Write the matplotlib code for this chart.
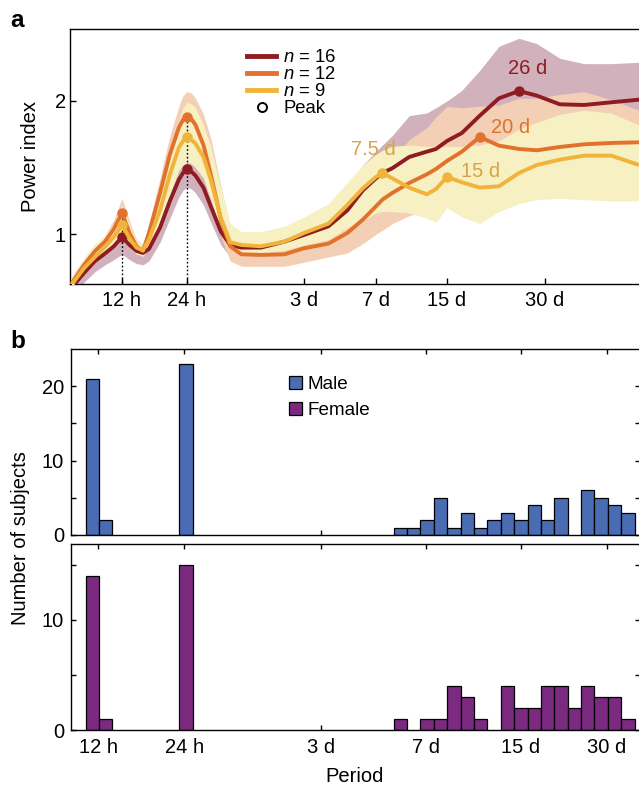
import numpy as np
import matplotlib
matplotlib.use('Agg')
import matplotlib.pyplot as plt
from matplotlib.patches import Patch
from matplotlib.lines import Line2D
from matplotlib.ticker import FixedLocator, NullLocator, FixedFormatter

plt.rcParams['font.family'] = ['Liberation Sans', 'DejaVu Sans']
plt.rcParams['mathtext.fontset'] = 'custom'
plt.rcParams['mathtext.it'] = 'Liberation Sans:italic'
plt.rcParams['mathtext.rm'] = 'Liberation Sans'

# ---------------- data: panel a (power index vs period) ----------------
period_h = [7, 8, 9, 10, 11, 12, 13, 14, 15, 16,
            18, 20, 22, 23, 24, 25, 26, 28, 30, 33,
            36, 40, 48, 60, 72, 96, 120, 144, 168, 180,
            200, 240, 290, 320, 360, 400, 454, 520, 599, 680,
            800, 950, 1150, 1400]

n16_mean = [0.60, 0.71, 0.80, 0.855, 0.91, 0.98, 0.92, 0.875, 0.86, 0.89,
            1.05, 1.25, 1.41, 1.46, 1.49, 1.47, 1.44, 1.35, 1.21, 1.02,
            0.92, 0.90, 0.90, 0.945, 0.995, 1.06, 1.18, 1.33, 1.42, 1.46,
            1.495, 1.58, 1.62, 1.64, 1.70, 1.76, 1.89, 2.02, 2.075, 2.04,
            1.975, 1.97, 1.99, 2.01]
n16_upper = [0.64, 0.76, 0.85, 0.90, 0.96, 1.05, 0.98, 0.93, 0.91, 0.98,
             1.16, 1.38, 1.55, 1.60, 1.63, 1.61, 1.58, 1.48, 1.34, 1.14,
             1.02, 0.98, 0.98, 1.03, 1.10, 1.18, 1.33, 1.52, 1.62, 1.67,
             1.74, 1.89, 1.91, 1.95, 2.00, 2.08, 2.23, 2.41, 2.47, 2.43,
             2.32, 2.28, 2.28, 2.29]
n16_lower = [0.55, 0.64, 0.72, 0.77, 0.81, 0.85, 0.81, 0.78, 0.77, 0.80,
             0.94, 1.12, 1.28, 1.33, 1.355, 1.34, 1.31, 1.22, 1.09, 0.92,
             0.83, 0.80, 0.80, 0.84, 0.88, 0.95, 1.05, 1.15, 1.22, 1.25,
             1.28, 1.33, 1.38, 1.40, 1.43, 1.47, 1.53, 1.58, 1.62, 1.62,
             1.60, 1.62, 1.64, 1.66]

n12_mean = [0.63, 0.77, 0.875, 0.945, 1.04, 1.16, 1.01, 0.91, 0.875, 1.01,
            1.31, 1.60, 1.80, 1.86, 1.88, 1.865, 1.82, 1.67, 1.45, 1.11,
            0.91, 0.85, 0.845, 0.85, 0.895, 0.93, 1.01, 1.11, 1.21, 1.26,
            1.31, 1.385, 1.45, 1.49, 1.55, 1.62, 1.73, 1.665, 1.64, 1.63,
            1.655, 1.675, 1.685, 1.69]
n12_upper = [0.68, 0.82, 0.92, 0.99, 1.11, 1.27, 1.10, 0.96, 0.92, 1.08,
             1.42, 1.74, 1.96, 2.04, 2.07, 2.06, 2.02, 1.90, 1.72, 1.36,
             1.06, 0.93, 0.93, 0.94, 0.99, 1.03, 1.14, 1.27, 1.40, 1.46,
             1.56, 1.71, 1.80, 1.88, 1.96, 1.95, 1.96, 1.97, 2.02, 2.02,
             2.05, 2.07, 2.01, 1.93]
n12_lower = [0.59, 0.72, 0.82, 0.89, 0.97, 1.06, 0.93, 0.86, 0.83, 0.90,
             1.16, 1.42, 1.62, 1.68, 1.70, 1.68, 1.64, 1.48, 1.27, 0.98,
             0.80, 0.76, 0.76, 0.76, 0.79, 0.83, 0.86, 0.93, 1.00, 1.03,
             1.08, 1.14, 1.17, 1.18, 1.22, 1.28, 1.35, 1.33, 1.30, 1.32,
             1.33, 1.33, 1.34, 1.35]

n9_mean = [0.62, 0.745, 0.83, 0.905, 0.98, 1.07, 0.97, 0.90, 0.88, 0.96,
           1.18, 1.45, 1.65, 1.70, 1.727, 1.71, 1.68, 1.58, 1.41, 1.12,
           0.94, 0.92, 0.91, 0.945, 1.01, 1.08, 1.22, 1.345, 1.43, 1.46,
           1.42, 1.35, 1.30, 1.34, 1.43, 1.39, 1.35, 1.36, 1.46, 1.52,
           1.56, 1.59, 1.59, 1.52]
n9_upper = [0.67, 0.82, 0.93, 0.99, 1.08, 1.22, 1.07, 0.95, 0.92, 1.03,
            1.30, 1.60, 1.85, 1.95, 1.99, 1.98, 1.95, 1.82, 1.66, 1.34,
            1.08, 1.02, 1.02, 1.06, 1.13, 1.23, 1.39, 1.52, 1.60, 1.63,
            1.66, 1.67, 1.66, 1.66, 1.66, 1.66, 1.67, 1.70, 1.79, 1.84,
            1.90, 1.93, 1.91, 1.82]
n9_lower = [0.60, 0.72, 0.80, 0.86, 0.92, 0.96, 0.90, 0.85, 0.84, 0.90,
            1.08, 1.30, 1.48, 1.52, 1.54, 1.53, 1.50, 1.42, 1.26, 1.02,
            0.90, 0.86, 0.86, 0.88, 0.92, 0.96, 1.05, 1.10, 1.16, 1.17,
            1.17, 1.16, 1.12, 1.09, 1.20, 1.13, 1.08, 1.17, 1.23, 1.26,
            1.27, 1.26, 1.25, 1.25]

# peaks (period in hours) and their labels
n16_peaks = [12, 24, 599]
n12_peaks = [12, 24, 454]
n9_peaks = [12, 24, 180, 360]
peak_labels = [('26 d', 'n16', 599), ('20 d', 'n12', 454),
               ('7.5 d', 'n9', 180), ('15 d', 'n9', 360)]

tick_hours = [12, 24, 72, 168, 360, 720]
tick_labels = ['12 h', '24 h', '3 d', '7 d', '15 d', '30 d']

# ---------------- data: panel b (histogram of peak periods) ----------------
male_counts = [21, 2, 0, 0, 0, 0, 0, 23, 0, 0,
               0, 0, 0, 0, 0, 0, 0, 0, 0, 0,
               0, 0, 0, 1, 1, 2, 5, 1, 3, 1,
               2, 3, 2, 4, 2, 5, 0, 6, 5, 4,
               3]
female_counts = [14, 1, 0, 0, 0, 0, 0, 15, 0, 0,
                 0, 0, 0, 0, 0, 0, 0, 0, 0, 0,
                 0, 0, 0, 1, 0, 1, 1, 4, 3, 1,
                 0, 4, 2, 2, 4, 4, 2, 4, 3, 3,
                 1]
bin_start_h = 10.87
bin_ratio = 1.1137

# ---------------- styling ----------------
col = {'n16': '#8e1c22', 'n12': '#e2722b', 'n9': '#f0b43a'}
band_col = {'n16': '#d1b1bc', 'n12': '#f2cfb5', 'n9': '#f6f0c2'}
label_col = {'n16': '#8e1c22', 'n12': '#e2722b', 'n9': '#d6a445'}
male_col = '#4a6cb3'
female_col = '#7b2a80'
FS = 14.5

W, H = 639, 785
fig = plt.figure(figsize=(W / 100, H / 100), dpi=100)


def px_axes(l, t, r, b):
    return fig.add_axes([l / W, 1 - b / H, (r - l) / W, (b - t) / H])


axA = px_axes(70, 29, 640, 284)
axM = px_axes(71, 349, 640, 535)
axF = px_axes(71, 544, 640, 730)

# non-uniform period axis of panel a (piecewise in log period)
a_xlim = (6.89, 1410.0)
a_tick_frac = [0.0912, 0.2053, 0.4105, 0.5368, 0.6614, 0.8333]
knot_ln = np.log([a_xlim[0]] + tick_hours + [a_xlim[1]])
knot_pos = np.array([0.0] + a_tick_frac + [1.0])
s_lo = (knot_pos[1] - knot_pos[0]) / (knot_ln[1] - knot_ln[0])
s_hi = (knot_pos[-1] - knot_pos[-2]) / (knot_ln[-1] - knot_ln[-2])


def fwd(h):
    l = np.log(np.clip(np.asarray(h, dtype=float), 1e-9, None))
    out = np.interp(l, knot_ln, knot_pos)
    out = np.where(l < knot_ln[0], knot_pos[0] + (l - knot_ln[0]) * s_lo, out)
    out = np.where(l > knot_ln[-1], knot_pos[-1] + (l - knot_ln[-1]) * s_hi, out)
    return out


def inv(p):
    p = np.asarray(p, dtype=float)
    l = np.interp(p, knot_pos, knot_ln)
    l = np.where(p < knot_pos[0], knot_ln[0] + (p - knot_pos[0]) / s_lo, l)
    l = np.where(p > knot_pos[-1], knot_ln[-1] + (p - knot_pos[-1]) / s_hi, l)
    return np.exp(l)


axA.set_xscale('function', functions=(fwd, inv))

series = {
    'n16': (n16_mean, n16_upper, n16_lower, n16_peaks),
    'n12': (n12_mean, n12_upper, n12_lower, n12_peaks),
    'n9': (n9_mean, n9_upper, n9_lower, n9_peaks),
}
x = np.array(period_h, dtype=float)
for z, key in enumerate(['n16', 'n12', 'n9']):
    m, u, lo, _ = series[key]
    axA.fill_between(x, lo, u, color=band_col[key], lw=0, zorder=1 + z)

# dotted guides at 12 h and 24 h up to n=12 peaks
for h in tick_hours[:2]:
    yv = n12_mean[period_h.index(h)]
    axA.vlines(h, 0, yv, colors='black', linestyles=(0, (1.2, 1.6)), lw=1.0, zorder=4)

for z, key in enumerate(['n16', 'n12', 'n9']):
    m, u, lo, pk = series[key]
    axA.plot(x, m, color=col[key], lw=2.8, zorder=5 + z, solid_joinstyle='round',
             solid_capstyle='butt')
    py = [m[period_h.index(h)] for h in pk]
    axA.plot(pk, py, ls='none', marker='o', ms=6.5, color=col[key], zorder=5 + z)

offsets = {'26 d': (6, 16), '20 d': (22, 6.5), '7.5 d': (-6.5, 17), '15 d': (24, 4)}
for txt, key, h in peak_labels:
    yv = series[key][0][period_h.index(h)]
    axA.annotate(txt, (h, yv), xytext=offsets[txt], textcoords='offset points',
                 ha='center', va='center', fontsize=FS, color=label_col[key], zorder=10)

axA.set_xlim(*a_xlim)
axA.set_ylim(0.627, 2.54)
axA.xaxis.set_major_locator(FixedLocator(tick_hours))
axA.xaxis.set_major_formatter(FixedFormatter(tick_labels))
axA.xaxis.set_minor_locator(NullLocator())
axA.set_yticks([1, 2])
axA.set_yticklabels(['1', '2'])
axA.tick_params(direction='in', length=4.5, width=1, labelsize=FS)
axA.tick_params(axis='x', pad=5)
axA.tick_params(axis='y', pad=3)
axA.spines['right'].set_visible(False)
for s in axA.spines.values():
    s.set_linewidth(1.0)
axA.set_ylabel('Power index', fontsize=FS)
axA.yaxis.set_label_coords(-0.0526, 0.5)

handles = [Line2D([], [], color=col[k], lw=3.5) for k in ['n16', 'n12', 'n9']]
handles.append(Line2D([], [], ls='none', marker='o', mfc='none', mec='black', mew=1.4, ms=6.5))
labels = [r'$n$ = 16', r'$n$ = 12', r'$n$ = 9', 'Peak']
axA.legend(handles, labels, loc='upper left', bbox_to_anchor=((247 - 70) / 570, (284 - 49) / 255),
           frameon=False, fontsize=13.3, handlelength=1.57, handletextpad=0.38,
           labelspacing=0.0, borderpad=0, borderaxespad=0)

# ---------------- panel b ----------------
edges = bin_start_h * bin_ratio ** np.arange(len(male_counts) + 1)
b_xlim = (9.657, 938.6)
for ax, counts, c in ((axM, male_counts, male_col), (axF, female_counts, female_col)):
    counts = np.array(counts)
    keep = counts > 0
    ax.bar(edges[:-1][keep], counts[keep], width=np.diff(edges)[keep], align='edge',
           color=c, edgecolor='black', lw=0.9, zorder=2)
    ax.set_xscale('log')
    ax.set_xlim(*b_xlim)
    ax.xaxis.set_major_locator(FixedLocator(tick_hours))
    ax.xaxis.set_minor_locator(NullLocator())
    ax.tick_params(which='both', direction='in', top=True, right=True, length=3.5,
                   width=1, labelsize=FS)
    ax.tick_params(axis='x', pad=6)
    ax.tick_params(axis='y', pad=5)
    for s in ax.spines.values():
        s.set_linewidth(1.0)

axM.set_ylim(0, 25)
axM.set_yticks([0, 10, 20])
axM.set_yticks([5, 15], minor=True)
axM.xaxis.set_major_formatter(FixedFormatter([''] * len(tick_hours)))

axF.set_ylim(0, 16.9)
axF.set_yticks([0, 10])
axF.set_yticks([5, 15], minor=True)
axF.xaxis.set_major_formatter(FixedFormatter(tick_labels))

axM.legend([Patch(facecolor=male_col, edgecolor='black', lw=0.9),
            Patch(facecolor=female_col, edgecolor='black', lw=0.9)],
           ['Male', 'Female'], loc='upper left',
           bbox_to_anchor=((289 - 71) / 569, (535 - 376) / 186),
           frameon=False, fontsize=13.6, handlelength=0.69, handleheight=0.69,
           handletextpad=0.3, labelspacing=0.46, borderpad=0, borderaxespad=0)

fig.text(21 / W, 1 - 538 / H, 'Number of subjects', rotation=90, ha='center', va='center', fontsize=FS)
fig.text(355 / W, 1 - 782 / H, 'Period', ha='center', va='baseline', fontsize=FS)
fig.text(10 / W, 1 - 27 / H, 'a', fontweight='bold', fontsize=17.5, ha='left', va='baseline')
fig.text(10 / W, 1 - 348 / H, 'b', fontweight='bold', fontsize=17.5, ha='left', va='baseline')

fig.savefig('out.png', dpi=100)
